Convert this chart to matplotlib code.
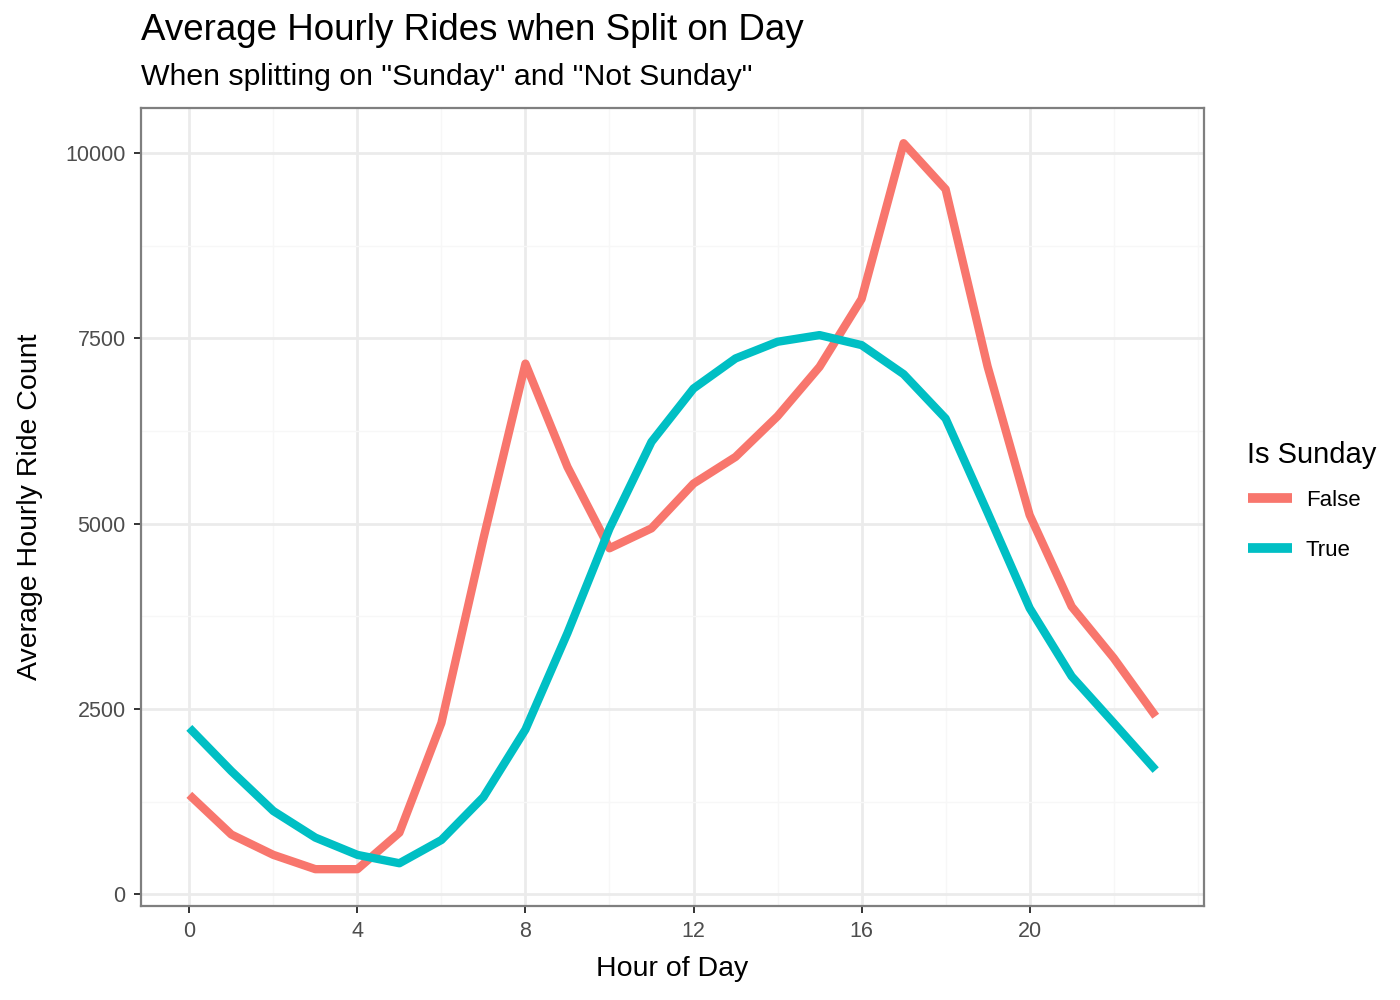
import numpy as np
import matplotlib
matplotlib.use("Agg")
import matplotlib.pyplot as plt
from matplotlib.ticker import MultipleLocator, FixedLocator

plt.rcParams['font.family'] = ['Liberation Sans', 'DejaVu Sans']

# average hourly rides
hours = list(range(24))
not_sunday = [1340, 805, 530, 337, 337, 830, 2311, 4800, 7160, 5766,
              4668, 4937, 5541, 5901, 6450, 7117, 8032, 10135, 9514, 7120,
              5117, 3882, 3187, 2401]
sunday = [2244, 1661, 1122, 763, 530, 417, 731, 1310, 2222, 3524,
          4933, 6104, 6824, 7230, 7455, 7545, 7410, 7018, 6419, 5150,
          3860, 2940, 2311, 1674]
series_labels = ["False", "True"]
series_colors = ["#F8766D", "#00BFC4"]
x_ticks = [0, 4, 8, 12, 16, 20]

fig = plt.figure(figsize=(14, 10), dpi=100)
ax = fig.add_axes([141 / 1400, 94 / 1000, (1204 - 141) / 1400, (906 - 108) / 1000])

for vals, lab, col in zip([not_sunday, sunday], series_labels, series_colors):
    ax.plot(hours, vals, color=col, lw=6, label=lab, solid_capstyle="butt",
            solid_joinstyle="round", zorder=3)

ax.set_xlim(-1.15, 24.15)
ax.set_ylim(-160, 10610)
ax.xaxis.set_major_locator(FixedLocator(x_ticks))
ax.xaxis.set_minor_locator(MultipleLocator(2))
ax.yaxis.set_major_locator(MultipleLocator(2500))
ax.yaxis.set_minor_locator(MultipleLocator(1250))

ax.grid(which="major", color="#EBEBEB", lw=2, zorder=0)
ax.grid(which="minor", color="#F7F7F7", lw=1, zorder=0)
ax.set_axisbelow(True)
for sp in ax.spines.values():
    sp.set_color("#7F7F7F")
    sp.set_linewidth(1.6)

ax.tick_params(which="major", length=5, width=1.4, color="#333333",
               labelcolor="#4D4D4D", labelsize=15.5, pad=6)
ax.tick_params(which="minor", length=0)

ax.set_xlabel("Hour of Day", fontsize=20.5, labelpad=10)
ax.set_ylabel("Average Hourly Ride Count", fontsize=20.5, labelpad=16)

fig.text(141 / 1400, 0.969, "Average Hourly Rides when Split on Day",
         fontsize=26.5, va="center", ha="left")
fig.text(141 / 1400, 0.923, 'When splitting on "Sunday" and "Not Sunday"',
         fontsize=21.8, va="center", ha="left")

# legend title drawn separately so the gap below it can be set freely
fig.text(1247 / 1400, 1 - 455 / 1000, "Is Sunday", fontsize=21,
         va="center", ha="left")
leg = ax.legend(loc="upper left",
                bbox_to_anchor=(1228 / 1400, 1 - 470 / 1000),
                bbox_transform=fig.transFigure, frameon=False,
                fontsize=16, handlelength=2.0,
                labelspacing=1.3, handletextpad=0.6)
for h in leg.legend_handles:
    h.set_linewidth(7)

fig.savefig("out.png", dpi=100)
